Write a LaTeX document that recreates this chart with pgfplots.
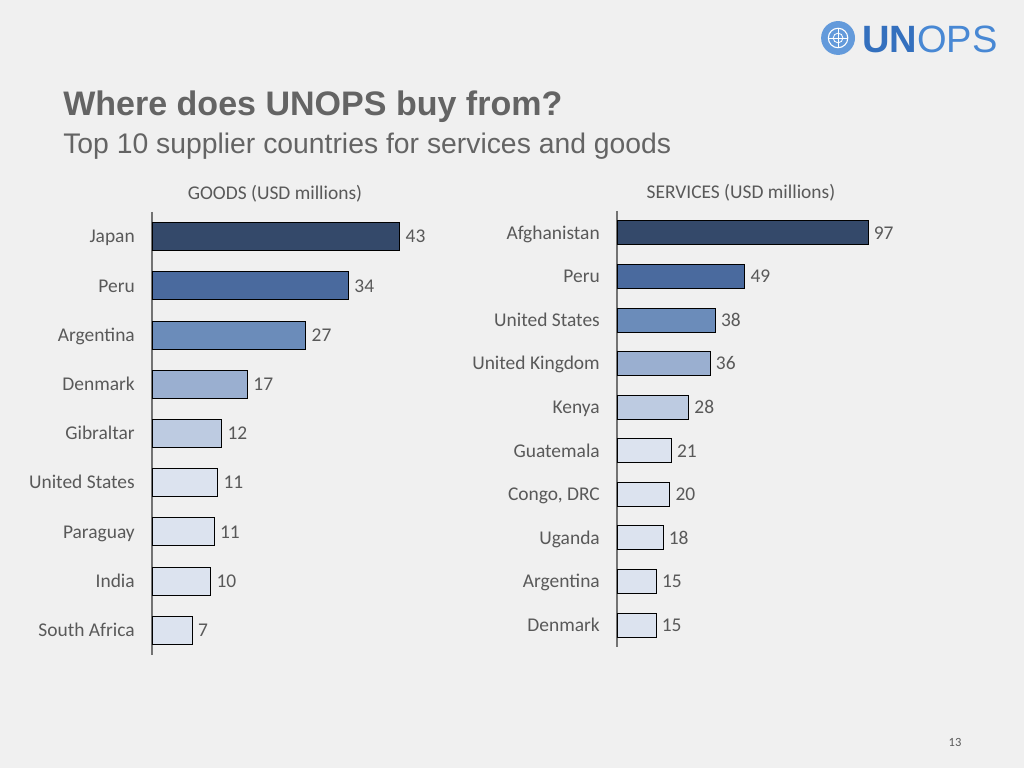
\documentclass[border=0pt]{standalone}
\usepackage{pgfplots}
\pgfplotsset{compat=1.18}
\usepackage{fontspec}
\setmainfont{Carlito}
\newfontfamily\arial{Liberation Sans}
\definecolor{bgc}{RGB}{240,240,240}
\definecolor{txt}{RGB}{89,89,89}
\definecolor{ttl}{RGB}{100,100,100}
\definecolor{cA}{RGB}{52,73,106}
\definecolor{cB}{RGB}{74,106,158}
\definecolor{cC}{RGB}{107,140,186}
\definecolor{cD}{RGB}{154,175,208}
\definecolor{cE}{RGB}{189,203,225}
\definecolor{cF}{RGB}{220,227,239}
\definecolor{unblue}{RGB}{52,112,190}
\definecolor{unblueL}{RGB}{72,136,212}
\pgfplotsset{
  barchart/.style={
    scale only axis, xbar, bar shift=0pt, y dir=reverse, xmin=0,
    axis y line=left, axis x line=none,
    axis line style={-, draw=black!55, line width=1.1pt},
    major tick length=0pt, ytick style={draw=none},
    yticklabel style={font=\fontsize{14}{16}\selectfont, text=txt, inner sep=0pt,
      text height=9pt, text depth=0pt, xshift=-12.2pt},
    /pgf/number format/assume math mode=true,
    /pgf/number format/fixed, /pgf/number format/precision=0,
    nodes near coords,
    every node near coord/.append style={font=\fontsize{14}{16}\selectfont, text=txt,
      anchor=west, inner sep=0pt, text height=9pt, text depth=0pt, xshift=3.8pt},
    clip=false,
  },
  every axis plot/.append style={draw=black, line width=0.7pt, bar shift=0pt},
}
\begin{document}
\begin{tikzpicture}
\useasboundingbox (0,0) rectangle (737.28pt,552.96pt);
\fill[bgc] (0,0) rectangle (737.28pt,552.96pt);
% logo
\fill[unblueL!85] (603.4pt,525.6pt) circle (12.2pt);
\draw[white, line width=0.8pt] (603.4pt,525.6pt) circle (7pt);
\draw[white, line width=0.6pt] (603.4pt,525.6pt) circle (3.5pt);
\draw[white, line width=0.6pt] (596.4pt,525.6pt) -- (610.4pt,525.6pt) (603.4pt,518.6pt) -- (603.4pt,532.6pt);
\node[anchor=base west, inner sep=0pt] at (620.6pt,515.5pt)
  {\arial\fontsize{27.4}{30}\selectfont{\bfseries\textcolor{unblue}{UN}}\textcolor{unblueL}{OPS}};
% titles
\node[anchor=base west, inner sep=0pt, text=ttl] at (45.36pt,469.44pt)
  {\arial\bfseries\fontsize{24.5}{28}\selectfont Where does UNOPS buy from?};
\node[anchor=base west, inner sep=0pt, text=ttl] at (45.36pt,442.08pt)
  {\arial\fontsize{20.4}{24}\selectfont Top 10 supplier countries for services and goods};
\node[anchor=base, inner sep=0pt, text=txt] at (198pt,408.96pt)
  {\fontsize{14}{16}\selectfont GOODS (USD millions)};
\node[anchor=base, inner sep=0pt, text=txt] at (533.5pt,409.68pt)
  {\fontsize{14}{16}\selectfont SERVICES (USD millions)};
\node[anchor=base, inner sep=0pt, text=txt] at (687.6pt,15.12pt)
  {\fontsize{9}{11}\selectfont 13};
% goods
\begin{axis}[barchart, at={(109.44pt,400.32pt)}, anchor=north west,
  width=207.6pt, height=318.96pt, xmax=50, ymin=-0.5, ymax=8.5,
  bar width=20.16pt, ytick={0,...,8},
  yticklabels={Japan,Peru,Argentina,Denmark,Gibraltar,United States,Paraguay,India,South Africa}]
\addplot[fill=cA] coordinates {(43,0)};
\addplot[fill=cB] coordinates {(34.1,1)};
\addplot[fill=cC] coordinates {(26.7,2)};
\addplot[fill=cD] coordinates {(16.6,3)};
\addplot[fill=cE] coordinates {(12.1,4)};
\addplot[fill=cF] coordinates {(11.4,5)};
\addplot[fill=cF] coordinates {(10.8,6)};
\addplot[fill=cF] coordinates {(10.2,7)};
\addplot[fill=cF] coordinates {(7.0,8)};
\end{axis}
% services
\begin{axis}[barchart, at={(444.24pt,401.04pt)}, anchor=north west,
  width=205pt, height=313.9pt, xmax=110, ymin=-0.5, ymax=9.5,
  bar width=17.28pt, ytick={0,...,9},
  yticklabels={Afghanistan,Peru,United States,United Kingdom,Kenya,Guatemala,{Congo, DRC},Uganda,Argentina,Denmark}]
\addplot[fill=cA] coordinates {(97,0)};
\addplot[fill=cB] coordinates {(49.4,1)};
\addplot[fill=cC] coordinates {(38,2)};
\addplot[fill=cD] coordinates {(36,3)};
\addplot[fill=cE] coordinates {(27.7,4)};
\addplot[fill=cF] coordinates {(21,5)};
\addplot[fill=cF] coordinates {(20.4,6)};
\addplot[fill=cF] coordinates {(17.8,7)};
\addplot[fill=cF] coordinates {(15.2,8)};
\addplot[fill=cF] coordinates {(15.1,9)};
\end{axis}
\end{tikzpicture}
\end{document}
